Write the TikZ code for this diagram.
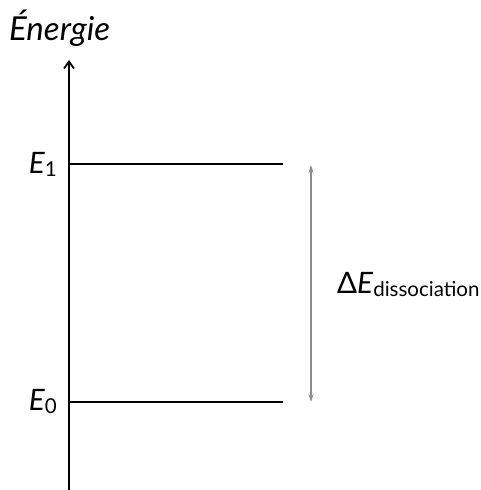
\documentclass[tikz,border=0pt]{standalone}
\usepackage{fontspec}
\setmainfont{Lato}
\usetikzlibrary{arrows.meta}
\newcommand{\lowsub}[1]{\raisebox{-3pt}{\fontsize{20.5}{21}\selectfont #1}}

\begin{document}
\begin{tikzpicture}[x=1pt, y=-1pt,
    axis/.style={line width=1.8pt, -{Straight Barb[length=7pt, width=10pt]}},
    level/.style={line width=2pt},
    gap/.style={black!45, line width=1.2pt, {Stealth[length=8pt, width=5pt]}-{Stealth[length=8pt, width=5pt]}},
    lbl/.style={font=\fontsize{29.5}{31}\selectfont, inner sep=0pt}]
    \useasboundingbox (0,0) rectangle (481,490);

    % axis
    \coordinate (origin) at (69,490);
    \coordinate (top) at (69,60);
    \draw[axis] (origin) -- (top);
    \node[lbl, font=\fontsize{33}{35}\selectfont, anchor=base west] (title) at (9,40) {\textit{Énergie}};

    % levels
    \coordinate (e1start) at (69,164);
    \coordinate (e1end) at (283,164);
    \coordinate (e0start) at (69,402);
    \coordinate (e0end) at (283,402);
    \draw[level] (e1start) -- (e1end);
    \draw[level] (e0start) -- (e0end);
    \node[lbl, anchor=base east] (e1) at (57,173) {\textit{E}\lowsub{1}};
    \node[lbl, anchor=base east] (e0) at (57,410) {\textit{E}\lowsub{0}};

    % dissociation energy
    \coordinate (gaptop) at (311,165);
    \coordinate (gapbot) at (311,402);
    \draw[gap] (gapbot) -- (gaptop);
    \node[lbl, anchor=base west] (de) at (337,293) {Δ\textit{E}\lowsub{dissociation}};
\end{tikzpicture}
\end{document}
